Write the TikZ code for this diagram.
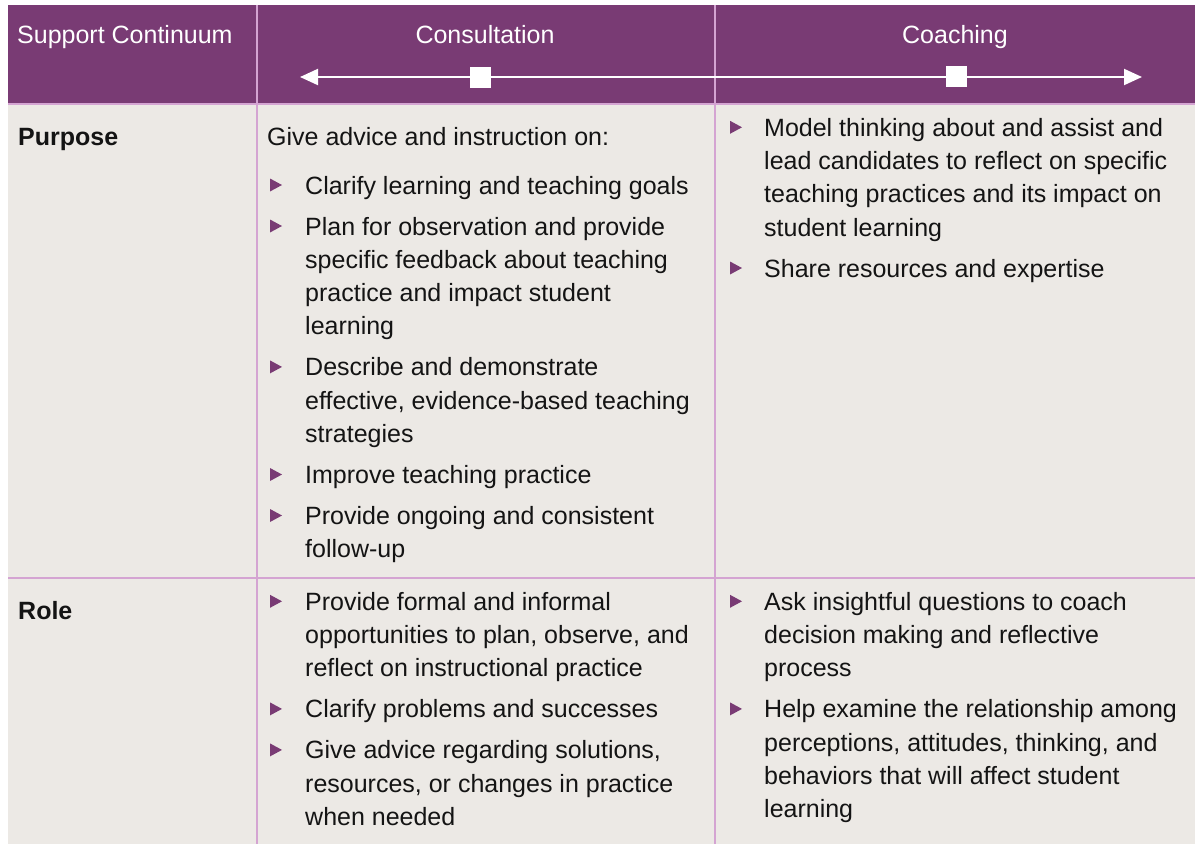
\documentclass[tikz,border=0pt]{standalone}
\usepackage{fontspec}
\setmainfont{Liberation Sans}
\usetikzlibrary{arrows.meta}
\definecolor{hdr}{RGB}{121,59,116}
\definecolor{bodyc}{RGB}{236,233,229}
\definecolor{rulec}{RGB}{212,164,210}
\definecolor{bulc}{RGB}{121,59,116}
\definecolor{ink}{RGB}{20,20,20}
\newcommand\bultri[2]{\fill[bulc] (#1,#2-15.5) -- (#1+12,#2-9) -- (#1,#2-2.5) -- cycle;}
\begin{document}
\begin{tikzpicture}[x=1pt,y=-1pt,
  txt/.style={anchor=base west,inner sep=0pt,text=ink,font=\fontsize{25}{30}\selectfont},
  btxt/.style={anchor=base west,inner sep=0pt,text=ink,font=\fontsize{25}{30}\selectfont\bfseries},
  htxt/.style={inner sep=0pt,text=white,font=\fontsize{25}{30}\selectfont},
  rulel/.style={draw=rulec,line width=2pt},
  sqbox/.style={fill=white,minimum size=21pt,inner sep=0pt},
  arr/.style={draw=white,line width=2pt,{Triangle[length=18pt,width=16pt]}-{Triangle[length=18pt,width=16pt]}}
]
\useasboundingbox (0,0) rectangle (1196,844);
\fill[white] (0,0) rectangle (1196,844);
% backgrounds
\fill[hdr] (8,5) rectangle (1195,104);
\fill[bodyc] (8,104) rectangle (1195,844);
% rules
\draw[rulel] (8,104) -- (1195,104);
\draw[rulel] (8,578) -- (1195,578);
\draw[rulel] (257,5) -- (257,844);
\draw[rulel] (715,5) -- (715,844);
% header
\node[htxt,anchor=base west] (hsc) at (17,43) {Support Continuum};
\node[htxt,anchor=base] (hco) at (485,43) {Consultation};
\node[htxt,anchor=base] (hch) at (955,43) {Coaching};
\coordinate (aL) at (300,77);
\coordinate (aR) at (1142,77);
\draw[arr] (aL) -- (aR);
\node[sqbox] (sqA) at (480,77) {};
\node[sqbox] (sqB) at (956,76) {};
% column 1
\node[btxt] (pur) at (18,145) {Purpose};
\node[btxt] (rol) at (18,619) {Role};
% row 1, column 2
\node[txt] (g0) at (267,145) {Give advice and instruction on:};
\bultri{270}{194}
\node[txt] (c1) at (305,194) {Clarify learning and teaching goals};
\bultri{270}{235}
\node[txt] (p1) at (305,235) {Plan for observation and provide};
\node[txt] (p2) at (305,268.3) {specific feedback about teaching};
\node[txt] (p3) at (305,301.6) {practice and impact student};
\node[txt] (p4) at (305,334.9) {learning};
\bultri{270}{375.9}
\node[txt] (d1) at (305,375.9) {Describe and demonstrate};
\node[txt] (d2) at (305,409.2) {effective, evidence-based teaching};
\node[txt] (d3) at (305,442.5) {strategies};
\bultri{270}{483.5}
\node[txt] (i1) at (305,483.5) {Improve teaching practice};
\bultri{270}{524.5}
\node[txt] (o1) at (305,524.5) {Provide ongoing and consistent};
\node[txt] (o2) at (305,557.8) {follow-up};
% row 1, column 3
\bultri{730}{136.3}
\node[txt] (m1) at (764,136.3) {Model thinking about and assist and};
\node[txt] (m2) at (764,169.6) {lead candidates to reflect on specific};
\node[txt] (m3) at (764,202.9) {teaching practices and its impact on};
\node[txt] (m4) at (764,236.2) {student learning};
\bultri{730}{277}
\node[txt] (sh) at (764,277) {Share resources and expertise};
% row 2, column 2
\bultri{270}{610.3}
\node[txt] (f1) at (305,610.3) {Provide formal and informal};
\node[txt] (f2) at (305,643.6) {opportunities to plan, observe, and};
\node[txt] (f3) at (305,676.9) {reflect on instructional practice};
\bultri{270}{717.9}
\node[txt] (cp) at (305,717.9) {Clarify problems and successes};
\bultri{270}{758.9}
\node[txt] (ga1) at (305,758.9) {Give advice regarding solutions,};
\node[txt] (ga2) at (305,792.2) {resources, or changes in practice};
\node[txt] (ga3) at (305,825.5) {when needed};
% row 2, column 3
\bultri{730}{610.3}
\node[txt] (a1) at (764,610.3) {Ask insightful questions to coach};
\node[txt] (a2) at (764,643.6) {decision making and reflective};
\node[txt] (a3) at (764,676.9) {process};
\bultri{730}{717.9}
\node[txt] (h1) at (764,717.9) {Help examine the relationship among};
\node[txt] (h2) at (764,751.2) {perceptions, attitudes, thinking, and};
\node[txt] (h3) at (764,784.5) {behaviors that will affect student};
\node[txt] (h4) at (764,817.8) {learning};
\end{tikzpicture}
\end{document}
